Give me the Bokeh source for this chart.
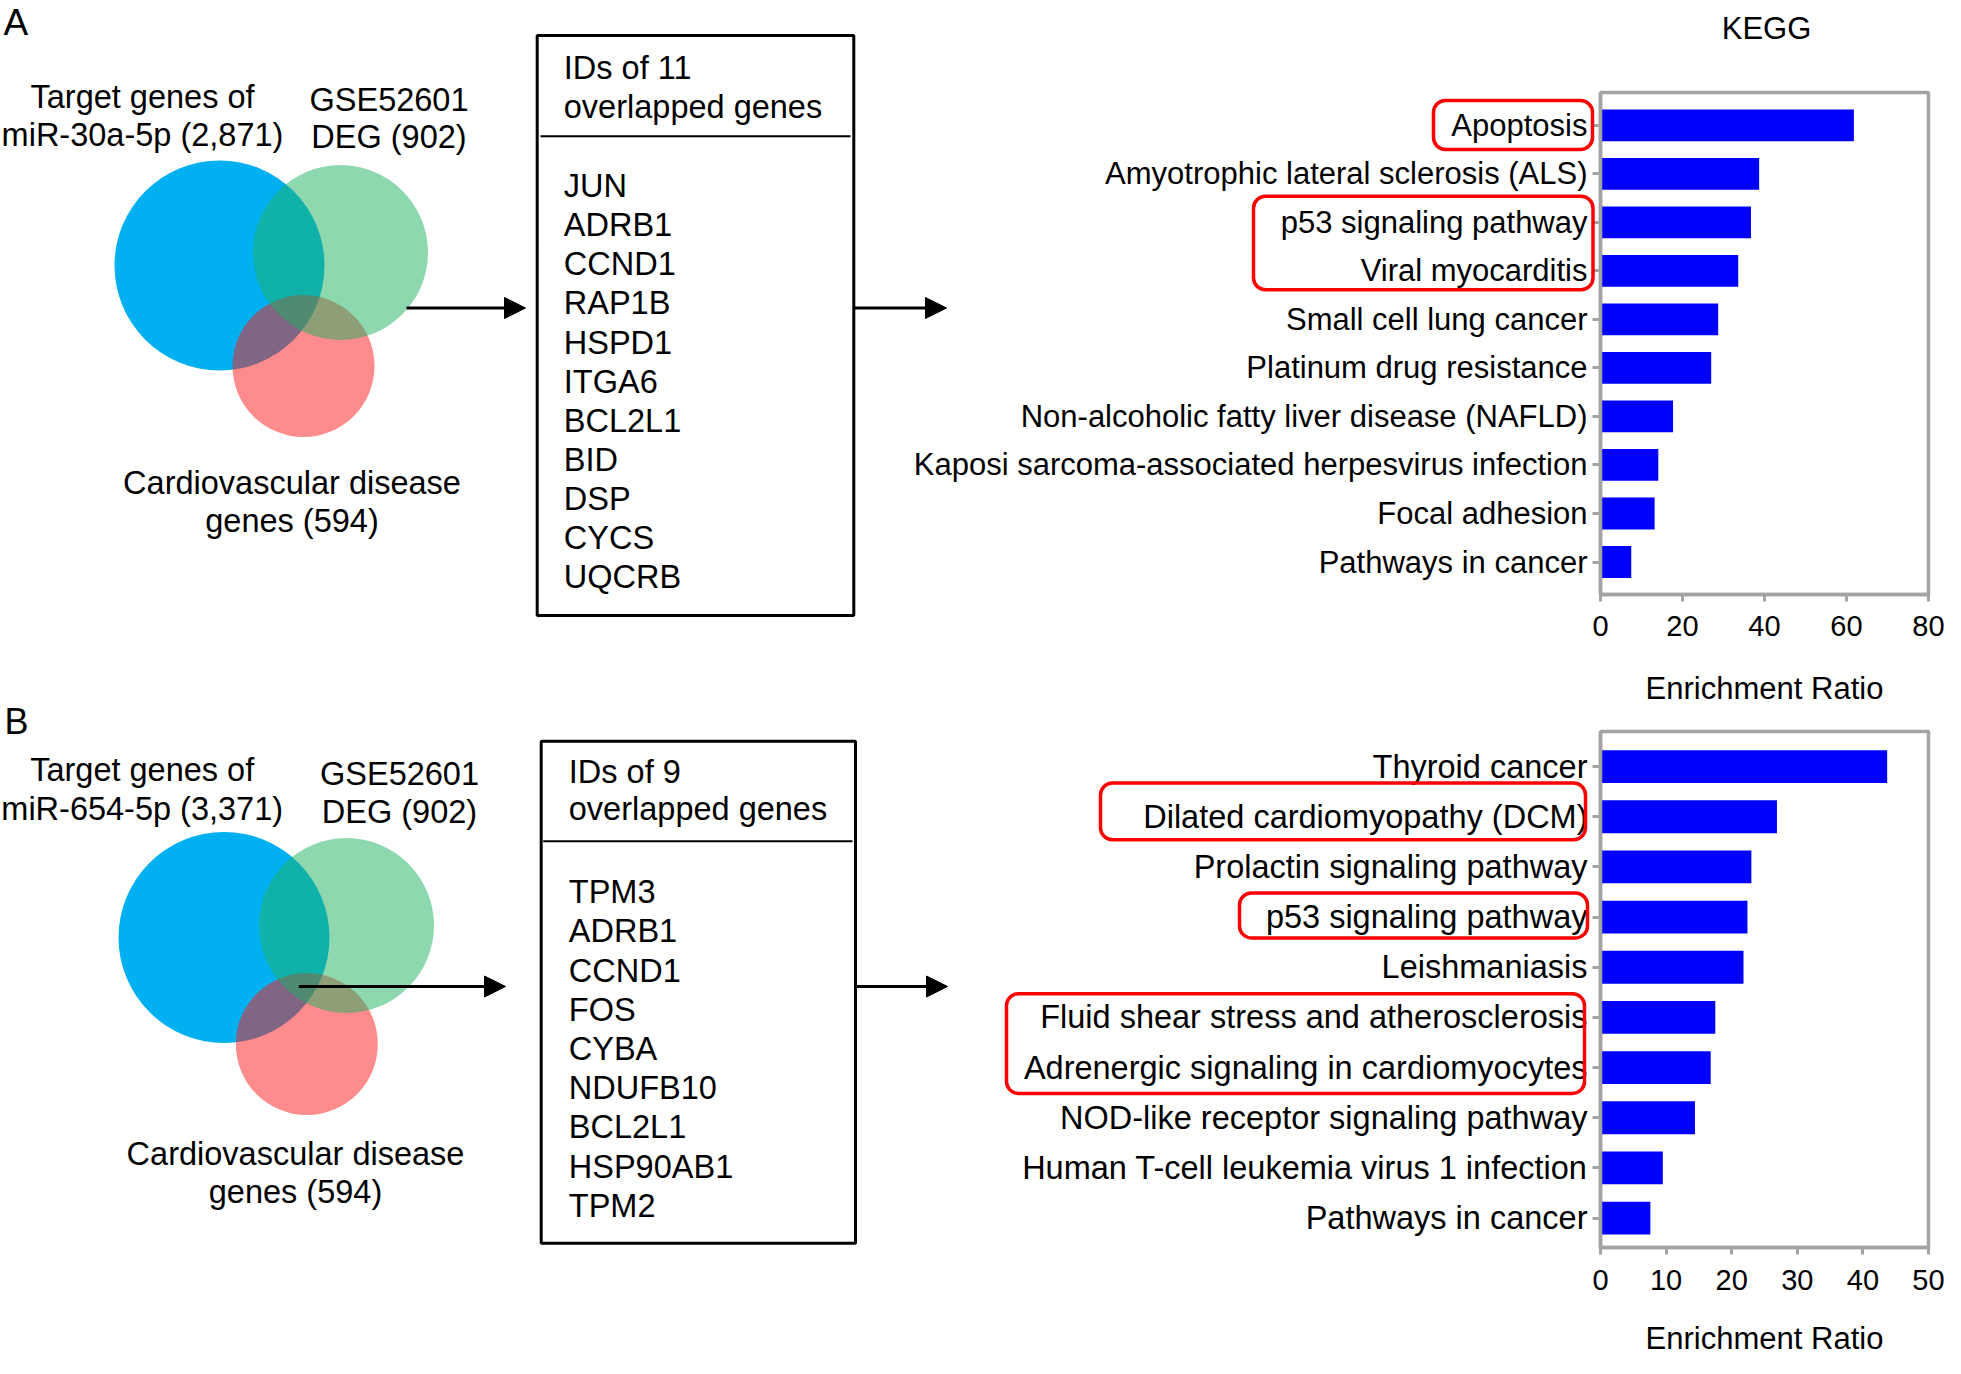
from bokeh.plotting import figure
from bokeh.layouts import row, column
from bokeh.models import (Range1d, FixedTicker, BoxAnnotation, Arrow, NormalHead,
                          Spacer, GridBox)
from bokeh.core.properties import value
from bokeh.embed import file_html
from bokeh.resources import INLINE

# ---------------- data ----------------
venn_a_set1 = ["Target genes of", "miR-30a-5p (2,871)"]
venn_a_set2 = ["GSE52601", "DEG (902)"]
venn_a_set3 = ["Cardiovascular disease", "genes (594)"]
venn_b_set1 = ["Target genes of", "miR-654-5p (3,371)"]
venn_b_set2 = ["GSE52601", "DEG (902)"]
venn_b_set3 = ["Cardiovascular disease", "genes (594)"]

overlap_a_header = ["IDs of 11", "overlapped genes"]
overlap_a_genes = ["JUN", "ADRB1", "CCND1", "RAP1B", "HSPD1", "ITGA6",
                   "BCL2L1", "BID", "DSP", "CYCS", "UQCRB"]
overlap_b_header = ["IDs of 9", "overlapped genes"]
overlap_b_genes = ["TPM3", "ADRB1", "CCND1", "FOS", "CYBA", "NDUFB10",
                   "BCL2L1", "HSP90AB1", "TPM2"]

kegg_title = "KEGG"
kegg_a_terms = ["Apoptosis", "Amyotrophic lateral sclerosis (ALS)",
                "p53 signaling pathway", "Viral myocarditis",
                "Small cell lung cancer", "Platinum drug resistance",
                "Non-alcoholic fatty liver disease (NAFLD)",
                "Kaposi sarcoma-associated herpesvirus infection",
                "Focal adhesion", "Pathways in cancer"]
kegg_a_ratio = [61.8, 38.7, 36.7, 33.6, 28.7, 27.0, 17.7, 14.1, 13.2, 7.5]

kegg_b_terms = ["Thyroid cancer", "Dilated cardiomyopathy (DCM)",
                "Prolactin signaling pathway", "p53 signaling pathway",
                "Leishmaniasis", "Fluid shear stress and atherosclerosis",
                "Adrenergic signaling in cardiomyocytes",
                "NOD-like receptor signaling pathway",
                "Human T-cell leukemia virus 1 infection", "Pathways in cancer"]
kegg_b_ratio = [43.7, 26.9, 23.0, 22.4, 21.8, 17.5, 16.8, 14.4, 9.5, 7.6]

# ---------------- layout / style (pixel coordinates of the page) ----------------
FONT = "Liberation Sans"
GREY = "#a3a3a6"
W, H = 1945, 1358
SPLIT_X, SPLIT_Y = 880, 712
CAP = 0.358  # half cap-height of the font, in em


def fy(Y):
    return H - Y


# ================= overlay figure: Venns, gene boxes, arrows, highlights ==========
ov = figure(width=W, height=H, x_range=Range1d(0, W), y_range=Range1d(0, H),
            min_border=0, x_axis_location=None, y_axis_location=None,
            title_location=None, toolbar_location=None,
            output_backend="svg", outline_line_color=None)
ov.grid.visible = False
ov.background_fill_color = None
ov.border_fill_color = None


def txt(p, xs, baselines, texts, size, align="center"):
    # place by text baseline: convert to the vertical middle of the capitals
    ys = [fy(b - CAP * size) for b in baselines]
    p.text(x=xs, y=ys, text=texts, text_font=value(FONT),
           text_font_size=f"{size}px", text_align=align, text_baseline="middle",
           text_color="black")


def venn(p, circles, sets, label_pos):
    (b, g, r) = circles
    p.circle(x=[b[0]], y=[fy(b[1])], radius=b[2], fill_color="#00B0F0",
             fill_alpha=1.0, line_color=None)
    p.circle(x=[r[0]], y=[fy(r[1])], radius=r[2], fill_color="#FF1A1A",
             fill_alpha=0.5, line_color=None)
    p.circle(x=[g[0]], y=[fy(g[1])], radius=g[2], fill_color="#1DB161",
             fill_alpha=0.5, line_color=None)
    for lines, (cx, bl) in zip(sets, label_pos):
        txt(p, [cx] * len(lines), bl, lines, 32.5)


def gene_box(p, box, sep, header, header_x, header_bl, genes, gene_bl0, step):
    l, r, t, b = box
    p.quad(left=[l], right=[r], top=[fy(t)], bottom=[fy(b)], fill_color=None,
           line_color="black", line_width=3)
    p.segment(x0=[sep[0]], x1=[sep[1]], y0=[fy(sep[2])], y1=[fy(sep[2])],
              line_color="black", line_width=2)
    txt(p, [header_x] * len(header), header_bl, header, 32.5, "left")
    txt(p, [header_x] * len(genes), [gene_bl0 + i * step for i in range(len(genes))],
        genes, 32.5, "left")


def arrow(p, xs, xe, y):
    p.add_layout(Arrow(end=NormalHead(size=21, fill_color="black", line_color="black"),
                       x_start=xs, y_start=fy(y), x_end=xe, y_end=fy(y),
                       line_color="black", line_width=3))


def red_box(p, l, r, t, b):
    p.add_layout(BoxAnnotation(left=l, right=r, top=fy(t), bottom=fy(b),
                               fill_alpha=0, line_color="#FF0000", line_alpha=1.0,
                               line_width=3.5, border_radius=12))


# panel letters
txt(ov, [3], [35], ["A"], 37, "left")
txt(ov, [4], [734], ["B"], 36, "left")

# panel A
venn(ov, [(219, 265, 105), (340, 252, 87.5), (303, 365.5, 71)],
     [venn_a_set1, venn_a_set2, venn_a_set3],
     [(142, [107.9, 146.4]), (388.5, [110.7, 148.2]), (291.5, [494.6, 532])])
arrow(ov, 406, 525, 307.5)
gene_box(ov, (536.7, 853.3, 35, 615), (540, 850, 135.7), overlap_a_header, 563.3,
         [79.3, 118.3], overlap_a_genes, 197.3, 39.1)
arrow(ov, 853.3, 946, 307.5)
red_box(ov, 1433, 1592, 100, 149)
red_box(ov, 1253, 1592.5, 195.7, 289.3)
ov.text(x=[1766], y=[fy(27.5)], text=[kegg_title], text_font=value(FONT),
        text_font_size="31px", text_align="center", text_baseline="middle",
        text_color="black")

# panel B
venn(ov, [(223.5, 937, 105.5), (346, 925, 87.5), (306.3, 1043.5, 71)],
     [venn_b_set1, venn_b_set2, venn_b_set3],
     [(141.7, [781.6, 820.5]), (399, [785.4, 823.3]), (295, [1165.6, 1202.8])])
arrow(ov, 298.3, 505, 986)
gene_box(ov, (540.7, 855, 740.7, 1242.7), (542.7, 852, 840.7), overlap_b_header, 568.3,
         [783.3, 820], overlap_b_genes, 903.3, 39.2)
arrow(ov, 855, 947, 986)
red_box(ov, 1100, 1585, 782.5, 839.3)
red_box(ov, 1239, 1587, 892.4, 937.4)
red_box(ov, 1006, 1584, 993.2, 1092.9)


# ================= KEGG bar charts =================
def kegg_panel(terms, ratios, xmax, xstep, canvas, frame, centers, label_px,
               lab_standoff, ax_standoff):
    cx0, cy0, cx1, cy1 = canvas
    fl, fr, ft, fb = frame
    c_first, c_last = centers
    n = len(terms)
    ppu = (c_last - c_first) / (n - 1)
    y_top = -(c_first - ft) / ppu
    y_bot = (n - 1) + (fb - c_last) / ppu
    p = figure(width=cx1 - cx0, height=cy1 - cy0,
               x_range=Range1d(0, xmax), y_range=Range1d(y_bot, y_top),
               min_border_left=fl - cx0, min_border_right=cx1 - fr,
               min_border_top=ft - cy0, min_border_bottom=cy1 - fb,
               title_location=None, toolbar_location=None, output_backend="svg")
    p.background_fill_color = "white"
    p.border_fill_color = "white"

    idx = list(range(n))
    p.hbar(y=idx, left=0, right=ratios, height=0.655, fill_color="#0000FF",
           line_color=None)

    p.grid.visible = False
    p.outline_line_color = GREY
    p.outline_line_width = 3.5
    p.outline_line_alpha = 1.0

    xa = p.xaxis[0]
    xa.ticker = FixedTicker(ticks=list(range(0, xmax + 1, xstep)))
    xa.minor_tick_line_color = None
    xa.major_tick_in = 0
    xa.major_tick_out = 7
    xa.major_label_standoff = lab_standoff
    xa.major_label_text_font = FONT
    xa.major_label_text_font_size = "29px"
    xa.major_label_text_color = "black"
    xa.axis_label = "Enrichment Ratio"
    xa.axis_label_text_font = FONT
    xa.axis_label_text_font_size = "31px"
    xa.axis_label_text_font_style = "normal"
    xa.axis_label_text_color = "black"
    xa.axis_label_standoff = ax_standoff

    ya = p.yaxis[0]
    ya.ticker = FixedTicker(ticks=idx)
    ya.major_label_overrides = {i: t for i, t in enumerate(terms)}
    ya.minor_tick_line_color = None
    ya.major_tick_in = 0
    ya.major_tick_out = 8
    ya.major_label_standoff = 5
    ya.major_label_text_font = FONT
    ya.major_label_text_font_size = label_px
    ya.major_label_text_color = "black"

    for ax in (xa, ya):
        ax.axis_line_color = GREY
        ax.axis_line_width = 3.5
        ax.major_tick_line_color = GREY
        ax.major_tick_line_width = 3
    return p


pa = kegg_panel(kegg_a_terms, kegg_a_ratio, 80, 20,
                (SPLIT_X, 0, W, SPLIT_Y), (1600, 1928, 92, 594), (124.9, 561.5),
                "31px", 14, 32)
pb = kegg_panel(kegg_b_terms, kegg_b_ratio, 50, 10,
                (SPLIT_X, SPLIT_Y, W, H), (1594, 1928, 731, 1250), (766.3, 1220.4),
                "32.5px", 15, 28)

base = row(Spacer(width=SPLIT_X, height=10), column(pa, pb))
layout = GridBox(children=[(base, 0, 0), (ov, 0, 0)], spacing=0)
open("out.html", "w").write(file_html(layout, INLINE))
